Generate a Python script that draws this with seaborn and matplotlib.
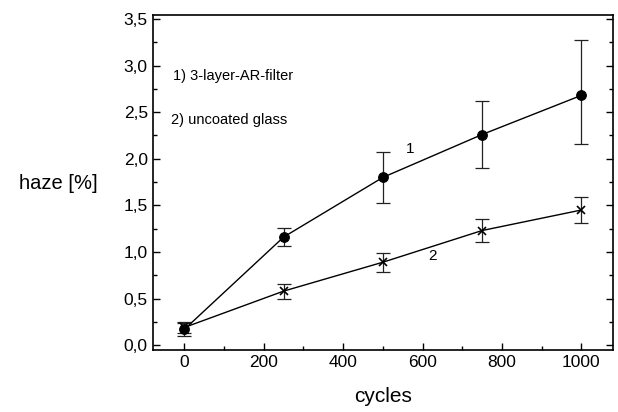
import matplotlib
matplotlib.use("Agg")
import matplotlib.pyplot as plt
import matplotlib.ticker as mticker
import seaborn as sns
import pandas as pd

cycles = [0, 250, 500, 750, 1000]
haze_ar = [0.17, 1.16, 1.80, 2.26, 2.68]
err_ar_low = [0.07, 0.10, 0.27, 0.36, 0.52]
err_ar_high = [0.07, 0.10, 0.27, 0.36, 0.59]
haze_glass = [0.19, 0.58, 0.89, 1.23, 1.45]
err_glass = [0.06, 0.08, 0.10, 0.125, 0.14]

note_1 = "1) 3-layer-AR-filter"
note_2 = "2) uncoated glass"
x_label = "cycles"
y_label = "haze [%]"

sns.set_style("ticks")
plt.rcParams["font.family"] = ["Liberation Sans", "DejaVu Sans"]
plt.rcParams["text.color"] = "black"
plt.rcParams["axes.labelcolor"] = "black"
plt.rcParams["xtick.color"] = "black"
plt.rcParams["ytick.color"] = "black"

fig = plt.figure(figsize=(6.18, 4.12), dpi=100)
ax = fig.add_axes([0.247, 0.150, 0.745, 0.813])

df1 = pd.DataFrame({"cycles": cycles, "haze": haze_ar})
df2 = pd.DataFrame({"cycles": cycles, "haze": haze_glass})

ax.errorbar(cycles, haze_ar, yerr=[err_ar_low, err_ar_high], fmt="none",
            ecolor="#222222", elinewidth=0.9, capsize=5, capthick=0.9, zorder=2)
ax.errorbar(cycles, haze_glass, yerr=err_glass, fmt="none",
            ecolor="#222222", elinewidth=0.9, capsize=5, capthick=0.9, zorder=2)

sns.lineplot(data=df1, x="cycles", y="haze", ax=ax, color="black", lw=1.0,
             marker="o", markersize=7, markeredgecolor="black", zorder=3)
sns.lineplot(data=df2, x="cycles", y="haze", ax=ax, color="black", lw=1.0,
             marker="x", markersize=6, markeredgewidth=1.2,
             markeredgecolor="black", zorder=3)

ax.text(568, 2.1, "1", fontsize=11, ha="center", va="center", color="black")
ax.text(626, 0.96, "2", fontsize=11, ha="center", va="center", color="black")
ax.text(-28, 2.89, note_1, fontsize=10.5, ha="left", va="center", color="black")
ax.text(-35, 2.42, note_2, fontsize=10.5, ha="left", va="center", color="black")

ax.set_xlim(-80, 1080)
ax.set_ylim(-0.054, 3.54)
ax.xaxis.set_major_locator(mticker.MultipleLocator(200))
ax.xaxis.set_minor_locator(mticker.MultipleLocator(100))
ax.yaxis.set_major_locator(mticker.MultipleLocator(0.5))
ax.yaxis.set_minor_locator(mticker.MultipleLocator(0.25))
ax.yaxis.set_major_formatter(mticker.FuncFormatter(lambda v, p: f"{v:.1f}".replace(".", ",")))
ax.tick_params(which="both", direction="in", right=True, top=False, width=1.0,
               colors="black", labelcolor="black")
ax.tick_params(which="major", length=5, labelsize=12.5)
ax.tick_params(which="minor", length=3)
for s in ax.spines.values():
    s.set_linewidth(1.2)
    s.set_color("black")

ax.set_xlabel(x_label, fontsize=15, labelpad=12, color="black")
ax.set_ylabel("")
fig.text(0.095, 0.555, y_label, fontsize=14.5, ha="center", va="center", color="black")

fig.savefig("out.png", dpi=100)
